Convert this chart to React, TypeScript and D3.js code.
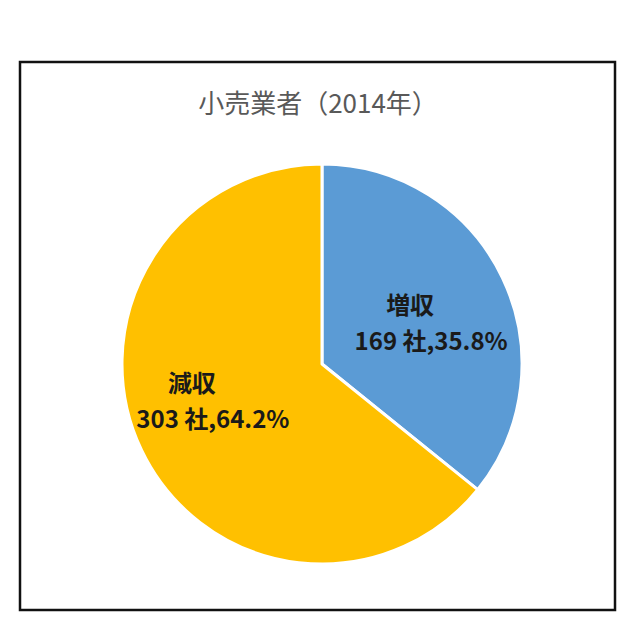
import React from "react";
import * as d3 from "d3";

const categories = ["増収", "減収"];
const counts = [169, 303];
const percents = ["35.8%", "64.2%"];
const colors = ["#5B9BD5", "#FFC000"];
const title = "小売業者（2014年）";

export default function App() {
  const W = 640, H = 636;
  const cx = 322, cy = 364, r = 200;
  const data = categories.map((c, i) => ({ c, v: counts[i], p: percents[i], col: colors[i] }));
  const pie = d3.pie<any>().sort(null).value((d) => d.v).startAngle(0).endAngle(2 * Math.PI);
  const arcs = pie(data);
  const arc = d3.arc<any>().innerRadius(0).outerRadius(r);
  const labelR = 116;
  const rot = 0.1;
  const font = "'Noto Sans CJK JP', 'Noto Sans', sans-serif";
  return (
    <svg width={W} height={H} style={{ position: "absolute", left: 0, top: 0, background: "#fff" }}>
      <rect x={0} y={0} width={W} height={H} fill="#fff" />
      <rect x={20} y={62} width={595} height={548} fill="#fff" stroke="#111" strokeWidth={2.5} />
      <text x={318} y={113} textAnchor="middle" fontFamily={font} fontSize={26} fill="#595959">
        {title}
      </text>
      <g transform={`translate(${cx},${cy})`}>
        {arcs.map((a, i) => (
          <path key={i} d={arc(a) as string} fill={a.data.col} stroke="#fff" strokeWidth={3} strokeLinejoin="round" />
        ))}
        {arcs.map((a, i) => {
          const mid = (a.startAngle + a.endAngle) / 2 + rot;
          const x = Math.sin(mid) * labelR;
          const y = -Math.cos(mid) * labelR;
          return (
            <g key={"l" + i} fontFamily={font} fontWeight="bold" fill="#1a1a1a" fontSize={24}>
              <text x={x - 21} y={y - 11} textAnchor="middle">{a.data.c}</text>
              <text x={x} y={y + 25} textAnchor="middle">{`${a.data.v} 社,${a.data.p}`}</text>
            </g>
          );
        })}
      </g>
    </svg>
  );
}
